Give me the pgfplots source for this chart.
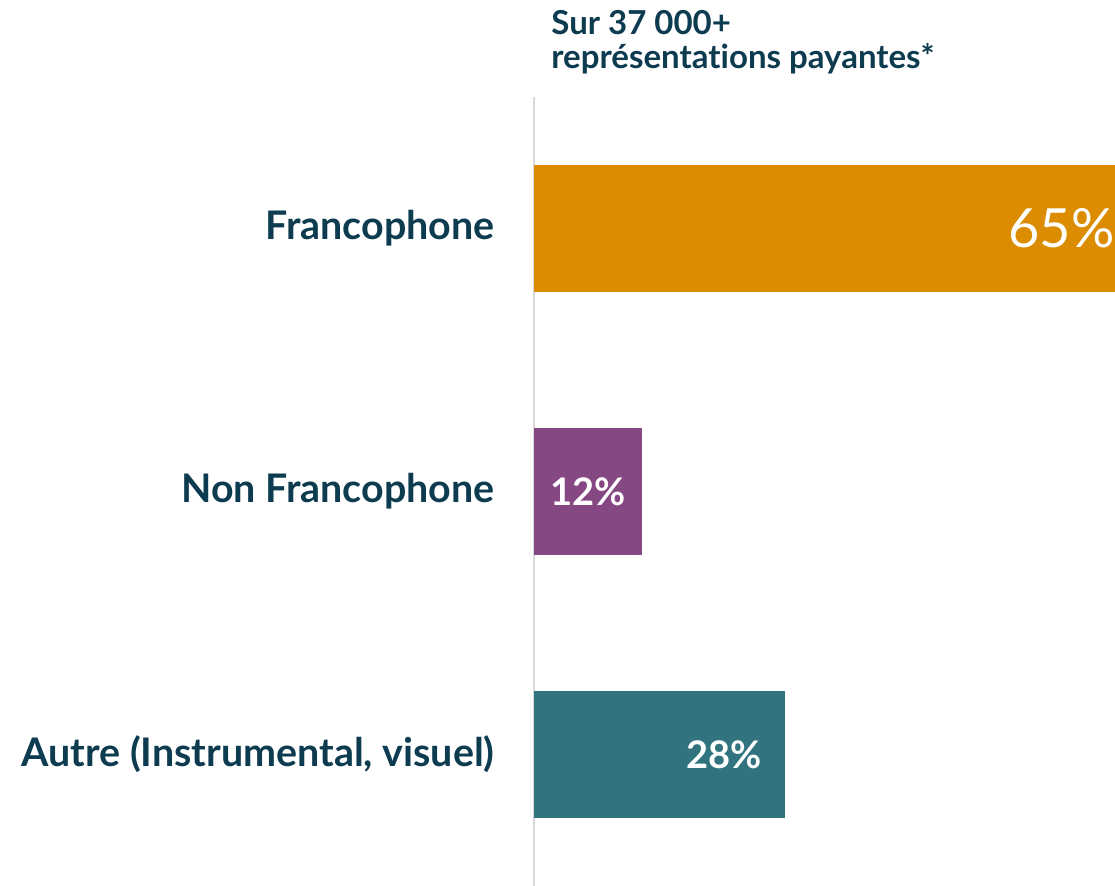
\documentclass[border=0pt]{standalone}
\usepackage{fontspec}
\setmainfont{Lato}[Ligatures={NoCommon,NoRequired,NoContextual}]
\usepackage{pgfplots}
\pgfplotsset{compat=1.18}
\definecolor{txt}{HTML}{0D3B4F}
\definecolor{c1}{HTML}{DB8C00}
\definecolor{c2}{HTML}{864883}
\definecolor{c3}{HTML}{317480}
\definecolor{gl}{HTML}{D9D9D9}
\begin{document}
\begin{tikzpicture}
\useasboundingbox (-267pt,0pt) rectangle (290.5pt,443pt);
\begin{axis}[
  at={(0pt,0pt)}, anchor=south west,
  scale only axis, width=290.5pt, height=394.5pt,
  xbar, bar width=63.5pt, bar shift=0pt,
  xmin=0, xmax=64.8, ymin=-0.5, ymax=2.5, y dir=reverse,
  axis x line=none,
  axis y line*=left, y axis line style={draw=gl, line width=1pt},
  ytick={0,1,2},
  yticklabels={Francophone, Non Francophone, {Autre (Instrumental, visuel)}},
  major tick length=0pt,
  yticklabel style={font=\fontsize{19.7}{23}\selectfont\bfseries, text=txt, inner sep=0pt, xshift=-19.5pt, anchor=east},
  clip=true,
]
\addplot[fill=c1, draw=none] coordinates {(65,0)};
\addplot[fill=c2, draw=none] coordinates {(12,1)};
\addplot[fill=c3, draw=none] coordinates {(28,2)};
\node[anchor=east, text=white, inner sep=0pt, font=\fontsize{27}{30}\selectfont] at (axis cs:64.8,0) [xshift=0pt] {65\%};
\node[text=white, inner sep=0pt, font=\fontsize{19}{22}\selectfont\bfseries] at (axis cs:6,1) {12\%};
\node[anchor=east, text=white, inner sep=0pt, font=\fontsize{19}{22}\selectfont\bfseries] at (axis cs:28,2) [xshift=-11.5pt] {28\%};
\end{axis}
\node[anchor=north west, inner sep=0pt, align=left, text=txt, font=\fontsize{16.5}{17}\selectfont\bfseries] at (8.5pt,438pt) {Sur 37 000+\\repr\'esentations payantes*};
\end{tikzpicture}
\end{document}
